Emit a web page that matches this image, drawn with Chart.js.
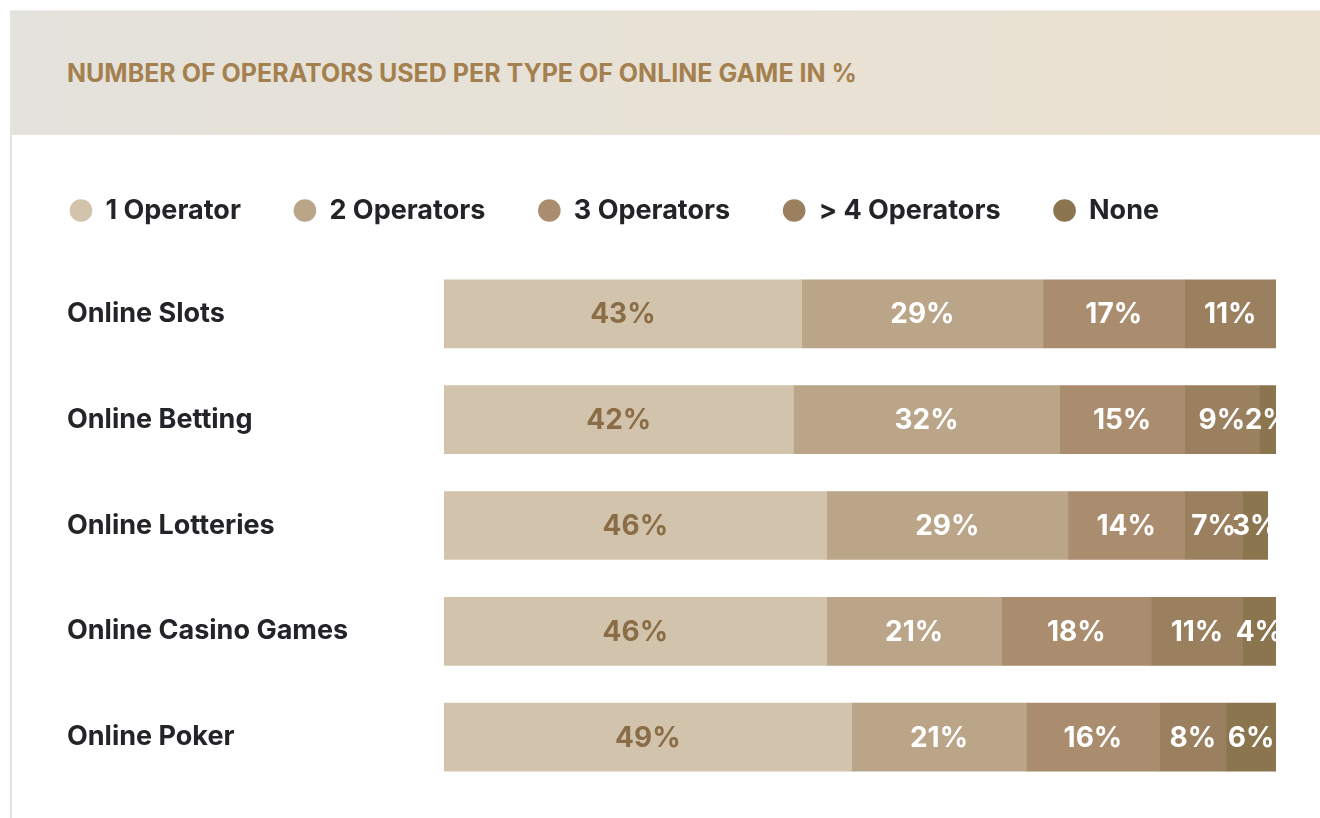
<!DOCTYPE html>
<html>
<head>
<meta charset="utf-8">
<script src="https://cdn.jsdelivr.net/npm/chart.js@4.4.1/dist/chart.umd.min.js"></script>
<style>
  html, body { margin: 0; padding: 0; background: #fff; }
  body { width: 1320px; height: 818px; position: relative; overflow: hidden; font-family: Inter, sans-serif; }
  .card { position: absolute; left: 10px; top: 10px; right: 0; bottom: 0; border-left: 2px solid #e4e4de; border-top: 1px solid #ececec; }
  .head { height: 124px; background: linear-gradient(90deg, #e4e2dc 0%, #ebe1d0 100%); display: flex; align-items: center; }
  .head h2 { margin: 0 0 0 55px; font-size: 25px; font-weight: 700; color: #a5804f; }
  .chart-box { position: absolute; left: 0; top: 124px; width: 1308px; height: 683px; }
</style>
</head>
<body>
<div class="card">
  <div class="head"><h2>NUMBER OF OPERATORS USED PER TYPE OF ONLINE GAME IN %</h2></div>
  <div class="chart-box"><canvas id="operators-chart"></canvas></div>
</div>
<script>
const categories = ["Online Slots", "Online Betting", "Online Lotteries", "Online Casino Games", "Online Poker"];
const seriesNames = ["1 Operator", "2 Operators", "3 Operators", "> 4 Operators", "None"];
const oneOperator = [43, 42, 46, 46, 49];
const twoOperators = [29, 32, 29, 21, 21];
const threeOperators = [17, 15, 14, 18, 16];
const fourPlusOperators = [11, 9, 7, 11, 8];
const noOperator = [0, 2, 3, 4, 6];

const colors = ["#d2c4ac", "#baa588", "#aa8d6e", "#9b8060", "#8b754f"];

// extra room between the legend and the bars
const legendGap = {
    id: "legendGap",
    beforeInit(chart) {
        const fit = chart.legend.fit;
        chart.legend.fit = function () {
            fit.call(this);
            this.height += 27;
        };
    }
};

const barLabels = {
    id: "barLabels",
    afterDatasetsDraw(chart) {
        const ctx = chart.ctx;
        ctx.save();
        ctx.font = "bold 28px Inter";
        ctx.textAlign = "center";
        ctx.textBaseline = "middle";
        chart.data.datasets.forEach((ds, i) => {
            chart.getDatasetMeta(i).data.forEach((bar, j) => {
                const v = ds.data[j];
                if (!v) return;
                const p = bar.getCenterPoint();
                ctx.fillStyle = i === 0 ? "#8a6d47" : "#ffffff";
                ctx.fillText(v + "%", p.x, p.y + 1);
            });
        });
        ctx.restore();
    }
};

const ctx = document.getElementById("operators-chart").getContext("2d");

new Chart(ctx, {
    type: "bar",
    data: {
        labels: categories,
        datasets: [oneOperator, twoOperators, threeOperators, fourPlusOperators, noOperator].map((d, i) => ({
            label: seriesNames[i],
            data: d,
            backgroundColor: colors[i],
            borderWidth: 0,
            barThickness: 68
        }))
    },
    options: {
        indexAxis: "y",
        responsive: true,
        maintainAspectRatio: false,
        animation: false,
        layout: { padding: { top: 9, left: 5, right: 44, bottom: 28 } },
        plugins: {
            legend: {
                position: "top",
                align: "start",
                labels: {
                    usePointStyle: true,
                    pointStyle: "circle",
                    boxWidth: 22,
                    boxHeight: 16,
                    padding: 53,
                    color: "#222428",
                    font: { family: "Inter", size: 27, weight: "bold" }
                }
            },
            tooltip: { enabled: false }
        },
        scales: {
            x: { stacked: true, min: 0, max: 100, display: false },
            y: {
                stacked: true,
                grid: { display: false, drawTicks: false },
                border: { display: false },
                ticks: {
                    crossAlign: "far",
                    color: "#222428",
                    font: { family: "Inter", size: 27, weight: "bold" }
                },
                afterFit(scale) { scale.width = 377; }
            },
            // empty spacer so the category labels start 50px in
            spacer: {
                type: "linear",
                position: "left",
                weight: 1,
                grid: { display: false },
                border: { display: false },
                ticks: { display: false },
                afterFit(scale) { scale.width = 50; }
            }
        }
    },
    plugins: [legendGap, barLabels]
});
</script>
</body>
</html>
